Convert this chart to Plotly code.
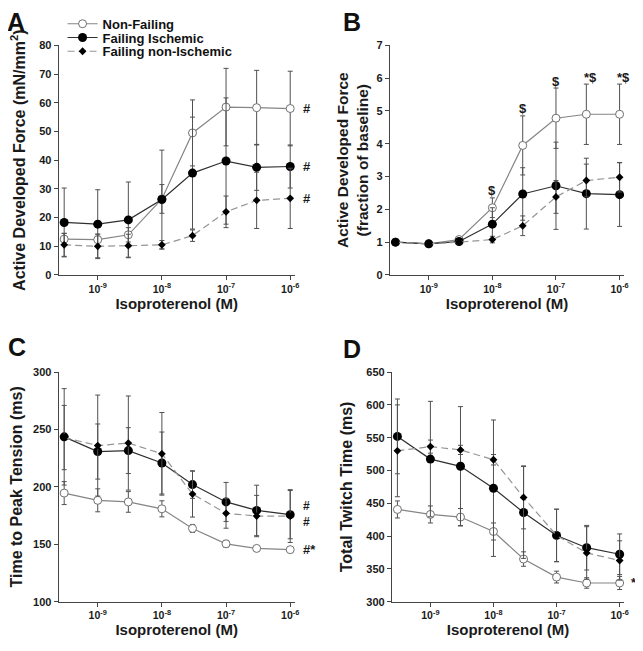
import math
import plotly.graph_objects as go
from plotly.subplots import make_subplots

# isoproterenol concentrations (M)
iso = [3e-10, 1e-9, 3e-9, 1e-8, 3e-8, 1e-7, 3e-7, 1e-6]
groups = ["Non-Failing", "Failing Ischemic", "Failing non-Ischemic"]

# A: active developed force (mN/mm2)
force_nf = [12.5, 12.3, 14.0, 26.5, 49.5, 58.5, 58.3, 58.0]
force_nf_err = [2.0, 2.0, 2.5, 5.0, 11.5, 13.5, 13.0, 13.0]
force_fi = [18.3, 17.7, 19.2, 26.3, 35.5, 39.7, 37.5, 37.8]
force_fi_err = [12.0, 12.0, 13.2, 17.2, 19.5, 22.0, 8.0, 7.5]
force_fni = [10.5, 10.0, 10.2, 10.5, 13.7, 22.0, 26.0, 26.7]
force_fni_err = [4.0, 4.0, 4.0, 1.5, 2.0, 5.5, 9.8, 10.5]

# B: force as fraction of baseline
frac_nf = [1.0, 0.95, 1.08, 2.05, 3.95, 4.78, 4.9, 4.9]
frac_nf_err = [0.04, 0.04, 0.08, 0.3, 0.9, 0.92, 0.92, 0.92]
frac_fi = [1.0, 0.95, 1.02, 1.55, 2.47, 2.72, 2.48, 2.45]
frac_fi_err = [0.03, 0.03, 0.08, 0.5, 0.8, 1.33, 1.08, 0.97]
frac_fni = [1.0, 0.95, 1.0, 1.08, 1.5, 2.38, 2.88, 2.98]
frac_fni_err = [0.03, 0.03, 0.05, 0.1, 0.3, 0.5, 0.5, 0.45]
frac_marks = ["", "", "", "$", "$", "$", "*$", "*$"]

# C: time to peak tension (ms)
ttp_nf = [194.6, 188.3, 186.9, 180.9, 163.8, 150.4, 146.4, 145.3]
ttp_nf_err = [10, 10, 9, 7, 3.5, 3, 2, 2]
ttp_fi = [243.6, 230.8, 231.6, 220.8, 202.0, 186.9, 179.5, 175.8]
ttp_fi_err = [42, 24, 20, 27, 12, 17, 22, 21]
ttp_fni = [243.0, 236.0, 238.2, 228.8, 193.7, 177.0, 174.6, 174.6]
ttp_fni_err = [28, 44, 41, 36, 20, 13, 18, 23]

# D: total twitch time (ms)
ttt_nf = [440.6, 433.0, 429.0, 407.0, 365.0, 337.5, 328.5, 328.5]
ttt_nf_err = [13, 13, 13, 13, 11, 9, 8, 10]
ttt_fi = [552.0, 517.4, 506.4, 473.0, 436.0, 401.0, 382.3, 372.3]
ttt_fi_err = [57, 88, 91, 104, 70, 40, 34, 31]
ttt_fni = [530.0, 536.4, 531.4, 516.4, 459.0, 401.0, 374.3, 362.8]
ttt_fni_err = [70, 10, 7, 8, 48, 40, 40, 30]

FONT = "Arial, Liberation Sans, sans-serif"
AX = "#444444"
TXT = "#1a1a1a"

# the page body has an 8px margin, so the figure is 16px smaller than the window
OFF = 8
W, H = 643 - 2 * OFF, 651 - 2 * OFF


def px(sx):
    return (sx - OFF) / W


def py(sy):
    return 1 - (sy - OFF) / H


styles = [
    dict(line=dict(color="#858585", width=1.2),
         marker=dict(symbol="circle", size=8, color="white",
                     line=dict(color="#707070", width=1))),
    dict(line=dict(color="#303030", width=1.2),
         marker=dict(symbol="circle", size=9, color="black")),
    dict(line=dict(color="#959595", width=1.2, dash="7px,4px"),
         marker=dict(symbol="diamond", size=6, color="black")),
]
legend_ids = ["legend", "legend2", "legend3"]

panels = [
    (1, 1, [(force_nf, force_nf_err), (force_fi, force_fi_err), (force_fni, force_fni_err)]),
    (1, 2, [(frac_nf, frac_nf_err), (frac_fi, frac_fi_err), (frac_fni, frac_fni_err)]),
    (2, 1, [(ttp_nf, ttp_nf_err), (ttp_fi, ttp_fi_err), (ttp_fni, ttp_fni_err)]),
    (2, 2, [(ttt_nf, ttt_nf_err), (ttt_fi, ttt_fi_err), (ttt_fni, ttt_fni_err)]),
]

fig = make_subplots(rows=2, cols=2)

for p, (r, c, series) in enumerate(panels):
    for g, (vals, err) in enumerate(series):
        fig.add_trace(go.Scatter(
            x=iso, y=vals, name=groups[g], mode="lines+markers",
            error_y=dict(type="data", array=err, color="#505050",
                         thickness=1, width=2.5),
            showlegend=(p == 0), legend=legend_ids[g], cliponaxis=False,
            **styles[g]),
            row=r, col=c)

# plot areas in window pixels: (left, right, top, bottom)
boxes = [(59, 297, 40, 274), (393, 629, 40, 274),
         (59, 297, 373, 607), (395, 629, 373, 607)]
yranges = [[0, 80], [0, 7], [100, 300], [300, 650]]
ydticks = [10, 1, 50, 50]
ytitles = ["Active Developed Force (mN/mm<sup>2</sup>)",
           "Active Developed Force<br>(fraction of baseline)",
           "Time to Peak Tension (ms)",
           "Total Twitch Time (ms)"]
ytitle_size = [16, 15.5, 16, 16]
ystandoff = [13, 4, 8, 9]
tickvals = [1e-9, 1e-8, 1e-7, 1e-6]
ticktext = ["10<sup>-9</sup>", "10<sup>-8</sup>", "10<sup>-7</sup>", "10<sup>-6</sup>"]

for i, (l, rr, t, b) in enumerate(boxes):
    r, c = i // 2 + 1, i % 2 + 1
    fig.update_xaxes(
        type="log", range=[-9.61, -5.93], domain=[px(l), px(rr)],
        tickvals=tickvals, ticktext=ticktext,
        showline=True, linecolor=AX, linewidth=1, ticks="outside",
        ticklen=4, tickcolor=AX, showgrid=False, zeroline=False,
        tickfont=dict(family=FONT, size=10.5, color=TXT, weight="bold"),
        title=dict(text="Isoproterenol (M)", standoff=3,
                   font=dict(family=FONT, size=15, color=TXT, weight="bold")),
        row=r, col=c)
    fig.update_yaxes(
        range=yranges[i], dtick=ydticks[i], domain=[py(b), py(t)],
        showline=True, linecolor=AX, linewidth=1, ticks="outside",
        ticklen=4, tickcolor=AX, showgrid=False, zeroline=False,
        tickfont=dict(family=FONT, size=11, color=TXT, weight="bold"),
        title=dict(text=ytitles[i], standoff=ystandoff[i],
                   font=dict(family=FONT, size=ytitle_size[i], color=TXT,
                             weight="bold")),
        row=r, col=c)

# panel letters (glyph centres in window pixels)
letters = [("A", 16, 16), ("B", 355, 16), ("C", 17, 347), ("D", 355, 349)]
for txt, sx, sy in letters:
    fig.add_annotation(text=txt, xref="paper", yref="paper",
                       x=px(sx), y=py(sy), xanchor="center", yanchor="middle",
                       showarrow=False,
                       font=dict(family=FONT, size=25, color="#111", weight="bold"))

# significance marks
mark_font = dict(family=FONT, size=13, color=TXT, weight="bold")
for vals in (force_nf, force_fi, force_fni):
    fig.add_annotation(text="#", xref="x domain", yref="y", x=1.025, y=vals[-1],
                       xanchor="left", showarrow=False, font=mark_font)
for k, m in enumerate(frac_marks):
    if m:
        # annotation x on a log axis is given in log10 units
        fig.add_annotation(text=m, xref="x2", yref="y2", x=math.log10(iso[k]),
                           y=frac_nf[k] + frac_nf_err[k], yanchor="middle",
                           yshift=7, xshift=4 if len(m) > 1 else 0,
                           showarrow=False, font=mark_font)
fig.add_annotation(text="#<br>#", xref="x3 domain", yref="y3", x=1.025,
                   y=(ttp_fi[-1] + ttp_fni[-1]) / 2 + 1, xanchor="left",
                   showarrow=False, font=dict(mark_font, size=12))
fig.add_annotation(text="#*", xref="x3 domain", yref="y3", x=1.025, y=ttp_nf[-1],
                   xanchor="left", showarrow=False, font=mark_font)
fig.add_annotation(text="*", xref="x4 domain", yref="y4", x=1.02, y=ttt_nf[-1],
                   xanchor="left", showarrow=False, font=mark_font)

# one small legend per group so the rows can sit as close as in the original
legend_rows = [18, 32, 46]
legend_layout = {}
for lid, sy in zip(legend_ids, legend_rows):
    legend_layout[lid] = dict(
        x=px(63), y=py(sy), xref="paper", yref="paper",
        xanchor="left", yanchor="middle", bgcolor="rgba(0,0,0,0)",
        font=dict(family=FONT, size=13, color="#111", weight="bold"),
        itemwidth=30)

fig.update_layout(
    width=W, height=H, margin=dict(l=0, r=0, t=0, b=0),
    paper_bgcolor="white", plot_bgcolor="white",
    font=dict(family=FONT, color=TXT),
    **legend_layout,
)

fig.write_html("out.html")
